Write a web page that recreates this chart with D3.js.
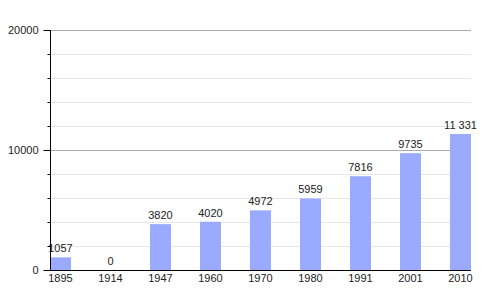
<!DOCTYPE html>
<html>
<head>
<meta charset="utf-8">
<script src="https://cdn.jsdelivr.net/npm/d3@7"></script>
<style>
body { margin: 0; background: #fff; }
text { font-family: "Liberation Sans", Arial, sans-serif; font-size: 11px; fill: #222; }
</style>
</head>
<body>
<svg class="chart" width="500" height="300"></svg>
<script>
var years = ["1895", "1914", "1947", "1960", "1970", "1980", "1991", "2001", "2010"];
var population = [1057, 0, 3820, 4020, 4972, 5959, 7816, 9735, 11331];
var majorTicks = [0, 10000, 20000];
var minorTicks = [2000, 4000, 6000, 8000, 12000, 14000, 16000, 18000];

var barcolor = "#99aaff",
	svg = d3.select(".chart"),
	plotLeft = 50,
	plotRight = 471,
	plotTop = 30,
	plotBottom = 270,
	barWidth = 21;

var x = d3.scaleBand()
	.domain(years)
	.range([plotLeft, plotLeft + 50 * years.length]);
var y = d3.scaleLinear()
	.domain([0, 20000])
	.range([plotBottom, plotTop]);

var fmt = function(v) {
	return v >= 10000 ? d3.format(",")(v).replace(",", " ") : String(v);
};

// grid lines
svg.selectAll(".minor")
	.data(minorTicks)
	.enter().append("line")
	.attr("x1", plotLeft).attr("x2", plotRight)
	.attr("y1", function(d) { return y(d) + 0.5; })
	.attr("y2", function(d) { return y(d) + 0.5; })
	.attr("stroke", "#e6e6e6");
svg.selectAll(".major")
	.data(majorTicks.slice(1))
	.enter().append("line")
	.attr("x1", plotLeft).attr("x2", plotRight)
	.attr("y1", function(d) { return y(d) + 0.5; })
	.attr("y2", function(d) { return y(d) + 0.5; })
	.attr("stroke", "#aaaaaa");

// bars
var data = years.map(function(yr, i) { return { year: yr, value: population[i] }; });
svg.selectAll(".bar")
	.data(data)
	.enter().append("rect")
	.attr("x", function(d) { return x(d.year); })
	.attr("y", function(d) { return y(d.value); })
	.attr("width", barWidth)
	.attr("height", function(d) { return plotBottom - y(d.value); })
	.attr("fill", barcolor);

svg.selectAll(".val")
	.data(data)
	.enter().append("text")
	.attr("x", function(d) { return x(d.year) + barWidth / 2; })
	.attr("y", function(d) { return y(d.value) - 5; })
	.attr("text-anchor", "middle")
	.text(function(d) { return fmt(d.value); });

// y axis
var yAxis = svg.append("g")
	.attr("transform", "translate(" + (plotLeft + 0.5) + ",0)")
	.call(d3.axisLeft(y).tickValues(majorTicks).tickSize(7).tickPadding(5).tickFormat(d3.format("d")));
yAxis.select(".domain").remove();
yAxis.selectAll("line").attr("stroke", "#000");
yAxis.selectAll("text").style("font-size", "11px").attr("fill", "#222");
var yMinor = svg.append("g")
	.attr("transform", "translate(" + (plotLeft + 0.5) + ",0)")
	.call(d3.axisLeft(y).tickValues(minorTicks).tickSize(3).tickFormat(""));
yMinor.select(".domain").remove();
yMinor.selectAll("line").attr("stroke", "#000");
svg.append("line")
	.attr("x1", plotLeft + 0.5).attr("x2", plotLeft + 0.5)
	.attr("y1", plotTop).attr("y2", plotBottom)
	.attr("stroke", "#000");

// x axis
svg.append("line")
	.attr("x1", 45).attr("x2", plotRight)
	.attr("y1", plotBottom + 0.5).attr("y2", plotBottom + 0.5)
	.attr("stroke", "#000");
svg.selectAll(".xl")
	.data(years)
	.enter().append("text")
	.attr("x", function(d) { return x(d) + barWidth / 2; })
	.attr("y", plotBottom + 12)
	.attr("text-anchor", "middle")
	.text(function(d) { return d; });
</script>
</body>
</html>
